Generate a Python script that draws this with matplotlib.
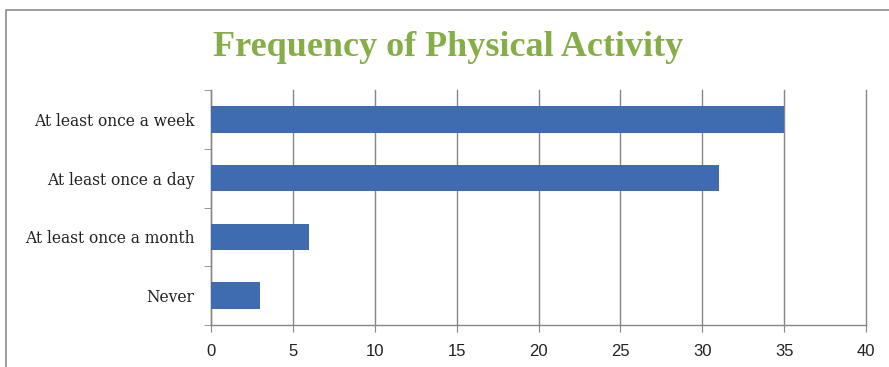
import numpy as np
import matplotlib
matplotlib.use('Agg')
from matplotlib import pyplot as plt
from matplotlib.patches import Rectangle

categories = ['Never', 'At least once a month', 'At least once a day', 'At least once a week']
values = [3, 6, 31, 35]
x_ticks = [0, 5, 10, 15, 20, 25, 30, 35, 40]
title = 'Frequency of Physical Activity'

W, H = 889, 367
fig = plt.figure(figsize=(W / 100, H / 100), dpi=100)

# chart border (cut off at right and bottom like the reference)
fig.patches.append(Rectangle((6 / W, -0.1), 1.2, 1.1 - 10 / H,
                             transform=fig.transFigure, fill=False,
                             edgecolor='#8c8c8c', linewidth=1.2))

ax = fig.add_axes([211 / W, 1 - 325 / H, (866 - 211) / W, (325 - 90) / H])

grid_c = '#868686'
y = np.arange(len(categories))
ax.barh(y, values, height=0.45, color='#3F6CB0', zorder=3)

ax.set_xlim(0, 40)
ax.set_ylim(-0.5, len(categories) - 0.5)
ax.set_xticks(x_ticks)
ax.set_xticklabels([str(t) for t in x_ticks], family='Liberation Sans', fontsize=12, color='#222222')
ax.set_yticks(y)
ax.set_yticklabels(categories, family='DejaVu Serif', fontsize=11.2, color='#222222')
ax.set_yticks(np.arange(len(categories) + 1) - 0.5, minor=True)
ax.tick_params(axis='y', which='major', length=0, pad=12)
ax.tick_params(axis='y', which='minor', length=5, color=grid_c, direction='out')
ax.tick_params(axis='x', length=5, color=grid_c, direction='out', pad=9)

ax.grid(axis='x', color=grid_c, linewidth=1, zorder=0)
for gl in ax.get_xgridlines():
    gl.set_clip_on(False)
for s in ['top', 'right']:
    ax.spines[s].set_visible(False)
for s in ['left', 'bottom']:
    ax.spines[s].set_color(grid_c)
    ax.spines[s].set_linewidth(1)

fig.text(448 / W, 1 - 48 / H, title, ha='center', va='center',
         family='Liberation Serif', fontweight='bold', fontsize=26, color='#86AE46')

fig.savefig('out.png', dpi=100)
